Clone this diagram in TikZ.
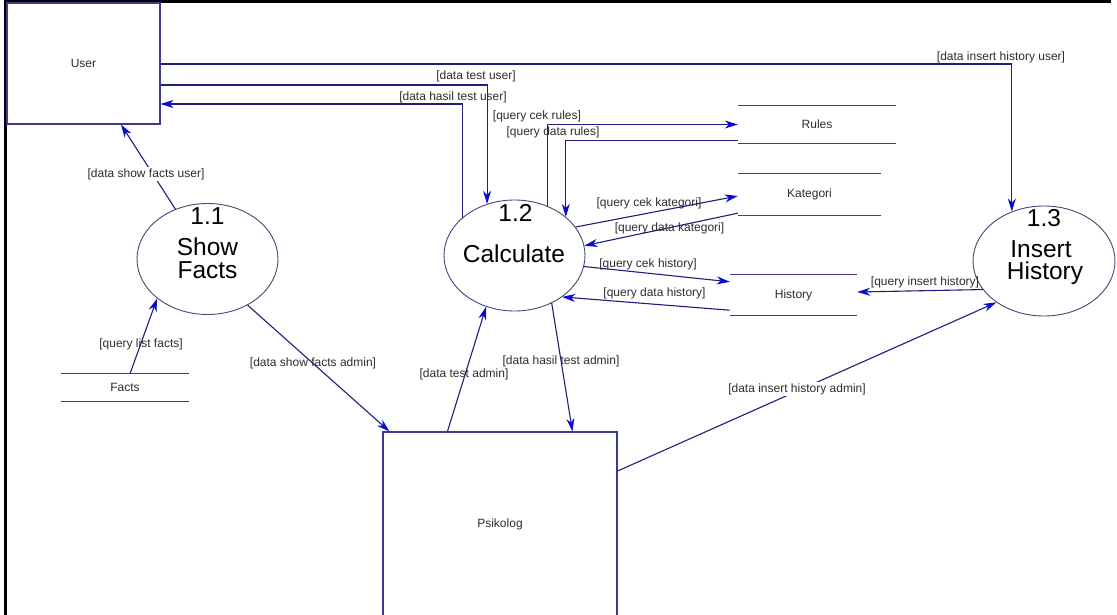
\documentclass[tikz,border=0pt]{standalone}
\usepackage{fontspec}
\setmainfont{Liberation Sans}
\usetikzlibrary{arrows.meta,shapes.geometric,calc}
\definecolor{navy}{RGB}{30,30,125}
\definecolor{headblue}{RGB}{10,10,210}
\definecolor{ell}{RGB}{70,70,120}
\definecolor{boxc}{RGB}{60,60,140}
\definecolor{txt}{RGB}{45,45,45}
\begin{document}
\begin{tikzpicture}[x=1pt,y=-1pt,
  flow/.style={draw=navy,line width=1.1pt,-{Stealth[length=13pt,width=8pt,inset=4pt,color=headblue]}},
  lbl/.style={font=\fontsize{12}{14}\selectfont,text=txt,inner sep=1pt},
  lblw/.style={lbl,fill=white},
  proc/.style={ellipse,draw=ell,line width=0.9pt,minimum width=141pt,minimum height=111pt,inner sep=0pt},
  big/.style={font=\fontsize{24.5}{28}\selectfont,anchor=base,inner sep=0pt,text height=17pt,text depth=0pt},
  ent/.style={draw=boxc,line width=1.1pt,inner sep=0pt,font=\fontsize{12}{14}\selectfont,text=txt},
  store/.style={inner sep=0pt,font=\fontsize{12}{14}\selectfont,text=txt},
  sline/.style={draw=boxc,line width=1.1pt}]
\useasboundingbox (0,0) rectangle (1117,615);
\clip (0,0) rectangle (1117,615);
\fill[white] (0,0) rectangle (1117,615);

% frame
\draw[black,line width=3pt] (1111,2) -- (5,2) -- (5,616);

% entities
\node[ent,minimum width=153pt,minimum height=121pt] (user) at (83.5,63.5) {User};
\node[ent,minimum width=234pt,minimum height=184pt] (psik) at (500,524) {Psikolog};

% processes
\node[proc] (p11) at (207.5,259) {};
\node[proc] (p12) at (514.5,255.5) {};
\node[proc,minimum width=142pt,minimum height=110pt] (p13) at (1044,261) {};
\node[big] (n11) at (207.5,225) {1.1};
\node[big] (s11) at (207.5,255) {Show};
\node[big] (f11) at (207.5,278) {Facts};
\node[big] (n12) at (515.5,221) {1.2};
\node[big] (c12) at (514,262) {Calculate};
\node[big] (n13) at (1044,226) {1.3};
\node[big] (i13) at (1041,257) {Insert};
\node[big] (h13) at (1045,279) {History};

% data stores
\node[store,minimum width=158pt,minimum height=37pt] (rules) at (817,124.5) {Rules};
\node[store,minimum width=143pt,minimum height=41pt] (kat) at (809.5,194.5) {Kategori};
\node[store,minimum width=127pt,minimum height=40pt] (hist) at (793.5,295) {History};
\node[store,minimum width=128pt,minimum height=27pt] (facts) at (125,387.5) {Facts};
\foreach \s in {rules,kat,hist,facts}{
  \draw[sline] (\s.north west) -- (\s.north east) (\s.south west) -- (\s.south east);
}

% flows
\draw[flow] (user.east |- 0,64) -| (p13.123);
\node[lbl] (l1) at (1001,57) {[data insert history user]};

\draw[flow] (user.east |- 0,85) -| (p12.118);
\node[lbl] (l2) at (476,76) {[data test user]};

\draw[flow] (p12.144) |- (user.east |- 0,104);
\node[lbl] (l3) at (453,97) {[data hasil test user]};

\draw[flow] (p11) -- (user.south -| 121,0);
\node[lblw] (l4) at (146,174) {[data show facts user]};

\draw[flow] (facts.north -| 130,0) -- (p11.218);
\node[lbl] (l5) at (141,344) {[query list facts]};

\draw[flow] (p11.-49) -- ($(psik.north west)+(7,0)$);
\node[lbl] (l6) at (313,363) {[data show facts admin]};

\draw[flow] ($(psik.north west)+(65,0)$) -- (p12.241);
\node[lbl] (l7) at (464,374) {[data test admin]};

\draw[flow] (p12.-52) -- ($(psik.north west)+(190,0)$);
\node[lbl] (l8) at (561,361) {[data hasil test admin]};

\draw[flow] (psik.east |- 0,471) -- (p13.221);
\node[lblw] (l9) at (797,389) {[data insert history admin]};

\draw[flow] (p12.56) |- (rules.west);
\node[lbl] (l10) at (537,116) {[query cek rules]};

\draw[flow] ($(rules.south west)+(0,-3)$) -| (p12.37);
\node[lbl] (l11) at (553,132) {[query data rules]};

\draw[flow] (p12.25) -- ($(kat.west)+(0,1.5)$);
\node[lbl] (l12) at (649,203) {[query cek kategori]};

\draw[flow] ($(kat.south west)+(0,-2)$) -- (p12.8);
\node[lbl] (l13) at (669.5,228) {[query data kategori]};

\draw[flow] (p12.-9.5) -- ($(hist.north west)+(0,7)$);
\node[lbl] (l14) at (648,264) {[query cek history]};

\draw[flow] ($(hist.south west)+(0,-5)$) -- (p12.-41.6);
\node[lbl] (l15) at (654.5,293) {[query data history]};

\draw[flow] (p13.205.7) -- ($(hist.east)+(0,-3)$);
\node[lbl] (l16) at (925,282) {[query insert history]};
\end{tikzpicture}
\end{document}
